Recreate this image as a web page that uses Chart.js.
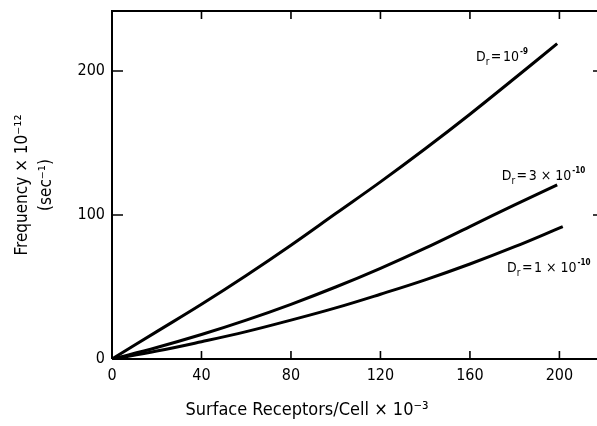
<!DOCTYPE html>
<html>
<head>
<meta charset="utf-8">
<script src="https://cdn.jsdelivr.net/npm/chart.js@4.4.0/dist/chart.umd.min.js"></script>
<style>
  html, body { margin: 0; padding: 0; background: #fff; }
  #wrap { width: 597px; height: 426px; }
</style>
</head>
<body>
<div id="wrap"><canvas id="myChart"></canvas></div>
<script>
var FONT = "'Liberation Sans Narrow', 'DejaVu Sans Condensed', 'Liberation Sans', sans-serif";

// receptors per cell (x 10^-3)
var receptors = [0, 20, 40, 60, 80, 100, 120, 140, 160, 180, 199];
var receptorsLow = [0, 20, 40, 60, 80, 100, 120, 140, 160, 180, 201.5];
// frequency (x 10^-12, sec^-1)
var freqDr1e9 = [0, 19, 38, 58, 79, 101, 123, 146, 170, 195, 219];
var freqDr3e10 = [0, 8, 17, 27, 38, 50, 63, 77, 92, 107, 121];
var freqDr1e10 = [0, 5.5, 12, 19, 27, 35.5, 45, 55, 66, 78, 92];
var xTicks = [0, 40, 80, 120, 160, 200];
var yTicks = [0, 100, 200];
var xTitle = 'Surface Receptors/Cell \u00d7 10\u207b\u00b3';

function pts(xs, ys) {
    return xs.map(function (v, i) { return { x: v, y: ys[i] }; });
}

// curve labels: [value text, exponent, anchor x, baseline y]
var curveLabels = [
    ['10', '-9', 162.7, 207],
    ['3 \u00d7 10', '-10', 174.2, 124.3],
    ['1 \u00d7 10', '-10', 176.6, 60.4]
];

var framePlugin = {
    id: 'frame',
    afterDraw: function (chart) {
        var ctx = chart.ctx;
        var a = chart.chartArea;
        var x = chart.scales.x, y = chart.scales.y;
        ctx.save();
        ctx.strokeStyle = '#000';
        ctx.lineWidth = 2;
        ctx.beginPath();
        ctx.moveTo(a.left, a.bottom);
        ctx.lineTo(a.left, a.top);
        ctx.lineTo(a.right, a.top);
        ctx.moveTo(a.left, a.bottom);
        ctx.lineTo(a.right, a.bottom);
        ctx.stroke();
        ctx.lineWidth = 1.6;
        ctx.beginPath();
        xTicks.forEach(function (v) {
            var px = x.getPixelForValue(v);
            ctx.moveTo(px, a.bottom);
            ctx.lineTo(px, a.bottom - 8);
            ctx.moveTo(px, a.top);
            ctx.lineTo(px, a.top + 8);
        });
        yTicks.forEach(function (v) {
            var py = y.getPixelForValue(v);
            ctx.moveTo(a.left, py);
            ctx.lineTo(a.left + 11, py);
            ctx.moveTo(a.right, py);
            ctx.lineTo(a.right - 4, py);
        });
        ctx.stroke();

        ctx.fillStyle = '#000';
        // x axis title (sits left of the plot centre in the original)
        ctx.font = '18px ' + FONT;
        ctx.textAlign = 'center';
        ctx.textBaseline = 'middle';
        ctx.fillText(xTitle, 307, 410);

        // curve labels
        ctx.textBaseline = 'alphabetic';
        ctx.textAlign = 'left';
        curveLabels.forEach(function (l) {
            var px = x.getPixelForValue(l[2]);
            var py = y.getPixelForValue(l[3]);
            ctx.font = '14px ' + FONT;
            ctx.fillText('D', px, py);
            px += ctx.measureText('D').width;
            ctx.font = '10px ' + FONT;
            ctx.fillText('r', px, py + 4);
            px += ctx.measureText('r').width + 1.5;
            ctx.font = '14px ' + FONT;
            ctx.fillText('=', px, py);
            px += ctx.measureText('=').width + 1.5;
            ctx.fillText(l[0], px, py);
            px += ctx.measureText(l[0]).width;
            ctx.font = 'bold 8px ' + FONT;
            ctx.fillText(l[1], px + 1, py - 7);
        });
        ctx.restore();
    }
};

var ctx = document.getElementById('myChart').getContext('2d');
var lineStyle = {
    borderColor: '#000',
    backgroundColor: 'transparent',
    borderWidth: 3,
    pointRadius: 0,
    tension: 0.4,
    fill: false
};
var myChart = new Chart(ctx, {
    type: 'line',
    data: {
        datasets: [
            Object.assign({ label: 'Dr = 10^-9', data: pts(receptors, freqDr1e9) }, lineStyle),
            Object.assign({ label: 'Dr = 3x10^-10', data: pts(receptors, freqDr3e10) }, lineStyle),
            Object.assign({ label: 'Dr = 1x10^-10', data: pts(receptorsLow, freqDr1e10) }, lineStyle)
        ]
    },
    options: {
        responsive: true,
        maintainAspectRatio: false,
        animation: false,
        layout: { padding: { top: 11, right: 0, left: 0, bottom: 0 } },
        plugins: {
            legend: { display: false },
            tooltip: { enabled: false }
        },
        scales: {
            x: {
                type: 'linear',
                min: 0,
                max: 216.8,
                afterBuildTicks: function (s) { s.ticks = xTicks.map(function (v) { return { value: v }; }); },
                afterFit: function (s) { s.height = 67; s.paddingLeft = 0; s.paddingRight = 0; },
                grid: { display: false, drawTicks: false },
                border: { display: false },
                ticks: {
                    color: '#000',
                    padding: 7,
                    maxRotation: 0,
                    font: { family: FONT, size: 16 }
                },
                title: { display: false }
            },
            y: {
                min: 0,
                max: 241.7,
                afterBuildTicks: function (s) { s.ticks = yTicks.map(function (v) { return { value: v }; }); },
                afterFit: function (s) { s.width = 112; s.paddingTop = 0; s.paddingBottom = 0; },
                grid: { display: false, drawTicks: false },
                border: { display: false },
                ticks: {
                    color: '#000',
                    padding: 7,
                    font: { family: FONT, size: 16 }
                },
                title: {
                    display: true,
                    text: ['Frequency \u00d7 10\u207b\u00b9\u00b2', '(sec\u207b\u00b9)'],
                    color: '#000',
                    font: { family: FONT, size: 17, lineHeight: 1.45 },
                    padding: { top: 10, bottom: 0 }
                }
            }
        }
    },
    plugins: [framePlugin]
});
</script>
</body>
</html>
